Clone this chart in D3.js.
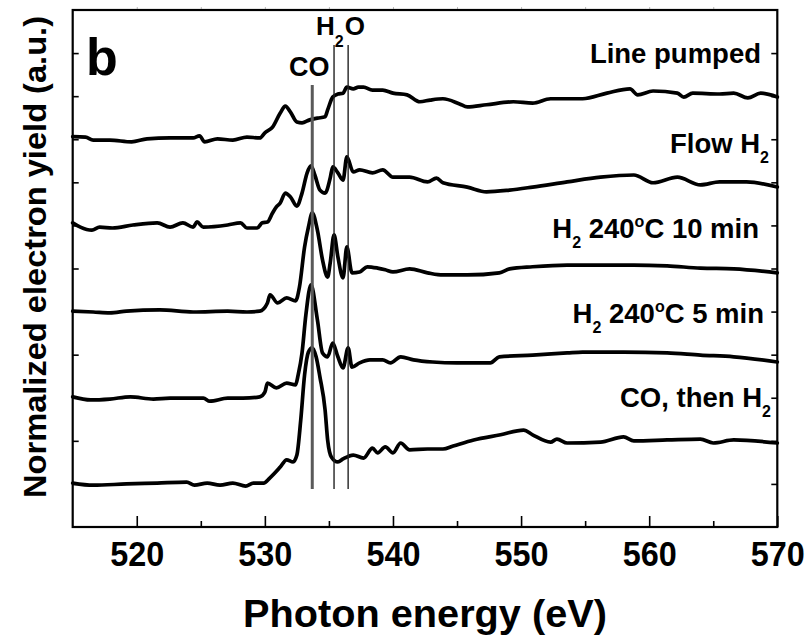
<!DOCTYPE html>
<html>
<head>
<meta charset="utf-8">
<script src="https://cdn.jsdelivr.net/npm/d3@7/dist/d3.min.js"></script>
<style>
  body { margin: 0; background: #fff; }
  text { font-family: "Liberation Sans", Arial, "DejaVu Sans", sans-serif; font-weight: bold; fill: #000; }
</style>
</head>
<body>
<svg id="chart" width="809" height="639"></svg>
<script>
// O K-edge spectra, offset vertically (photon energy in eV, normalized yield in a.u.)
const linePumpedE = [515.0,516.0,516.6,517.9,519.6,520.8,522.6,524.4,524.9,525.3,526.3,527.5,528.6,529.6,530.0,530.6,531.2,531.6,532.0,532.5,532.9,533.5,534.1,534.7,534.9,535.3,535.7,536.1,536.4,536.9,537.3,537.7,538.4,539.2,540.0,541.1,542.1,542.9,543.9,545.2,545.8,547.3,549.4,550.9,552.3,554.8,556.7,558.5,559.1,560.3,562.2,562.7,563.4,565.5,566.6,567.7,568.7,570.0];
const linePumpedY = [9.06,9.05,8.98,8.98,8.94,9.01,9.03,9.03,9.08,8.94,9.01,8.98,9.05,9.03,9.15,9.28,9.61,9.77,9.63,9.40,9.38,9.45,9.49,9.52,9.68,9.98,10.05,10.07,10.21,10.17,10.21,10.21,10.14,10.14,10.07,10.03,9.87,9.91,9.94,9.82,9.75,9.80,9.87,9.84,9.94,9.94,10.07,10.17,10.03,10.12,10.07,9.98,10.07,10.05,10.07,9.96,10.07,9.98];

const flowH2E = [515.0,515.6,516.5,517.1,518.1,519.7,521.6,522.6,523.6,524.4,524.7,525.2,527.1,528.1,528.6,529.4,529.8,530.2,530.6,530.9,531.2,531.6,532.0,532.5,532.9,533.3,533.6,533.9,534.3,534.7,535.1,535.3,535.7,536.1,536.4,536.9,537.4,538.4,539.2,540.0,541.3,542.7,543.4,543.9,545.8,547.3,549.1,550.9,553.6,556.2,558.8,560.3,562.2,564.0,565.5,567.6,570.0];
const flowH2Y = [7.06,6.96,6.89,6.96,6.94,7.01,7.06,6.96,7.06,6.96,7.08,6.96,7.01,7.06,6.94,6.94,7.06,7.08,7.29,7.43,7.52,7.75,7.66,7.45,7.75,8.22,8.38,8.17,7.82,7.75,8.10,8.36,8.22,8.05,8.59,8.24,8.29,8.22,8.29,8.12,8.12,8.01,8.10,7.99,7.89,7.78,7.82,7.89,8.01,8.12,8.17,7.99,8.12,7.94,8.01,8.01,7.89];

const h2Hot10E = [515.0,516.6,517.9,519.2,521.8,524.4,527.1,528.6,529.6,530.2,530.4,531.0,531.7,532.4,532.7,533.1,533.4,533.7,534.1,534.5,534.9,535.1,535.4,535.7,536.1,536.4,536.8,537.4,538.0,538.8,539.4,540.0,541.3,542.7,543.9,545.8,548.3,549.1,550.9,553.6,556.2,558.8,561.4,564.0,566.6,570.0];
const h2Hot10Y = [5.01,4.99,4.97,5.01,5.04,4.99,5.01,4.99,5.01,5.20,5.39,5.20,5.32,5.25,5.57,6.50,6.96,7.29,6.89,6.20,5.80,6.13,6.78,6.27,5.78,6.50,5.90,5.92,6.04,6.01,5.97,5.92,5.99,5.90,5.85,5.85,5.90,5.99,6.04,6.08,6.08,6.08,6.06,6.01,5.99,5.90];

const h2Hot5E = [515.0,516.4,517.9,519.5,521.3,522.6,525.2,525.7,527.1,528.3,529.6,530.0,530.2,530.9,531.7,532.4,532.6,532.9,533.2,533.6,534.1,534.5,534.9,535.3,535.7,536.1,536.5,536.8,537.4,538.2,539.2,539.8,540.6,541.6,543.1,545.0,547.6,548.3,550.9,553.6,554.8,558.0,561.4,564.0,566.6,570.0];
const h2Hot5Y = [3.02,2.95,2.97,3.02,2.97,2.99,2.99,2.92,2.99,2.99,3.02,3.13,3.34,3.23,3.34,3.30,3.53,4.04,4.92,5.62,4.81,4.04,3.95,4.27,3.95,3.69,4.16,3.71,3.81,3.88,3.88,3.81,3.95,3.88,3.83,3.81,3.81,3.95,3.99,4.04,4.06,4.06,4.04,3.99,3.95,3.83];

const coThenH2E = [515.0,516.6,519.2,521.6,523.9,524.5,525.5,526.5,527.5,528.5,529.1,529.9,530.4,531.2,531.7,532.2,532.5,532.8,533.1,533.4,533.7,534.0,534.3,534.7,534.9,535.2,535.7,536.1,536.9,537.7,538.4,538.8,539.4,540.0,540.6,541.3,542.7,543.9,544.7,546.3,548.4,550.2,550.9,552.3,552.8,553.6,556.2,558.0,558.8,561.4,564.0,565.0,566.6,570.0];
const coThenH2Y = [1.02,0.97,1.00,1.02,1.04,0.97,1.02,0.97,1.02,0.95,1.02,1.02,1.14,1.39,1.56,1.51,1.67,2.48,3.53,4.06,4.16,3.95,3.48,2.72,2.02,1.62,1.51,1.58,1.67,1.60,1.83,1.72,1.86,1.72,1.95,1.79,1.81,1.81,1.88,2.02,2.14,2.25,2.14,1.97,2.04,1.95,1.97,2.09,2.00,2.02,2.04,1.95,2.02,1.95];

// Reference energies for the CO and H2O features
const coEnergy = [533.7];
const h2oEnergies = [535.4, 536.5];

const xDomain = [515, 570];
const xMajorTicks = [520, 530, 540, 550, 560, 570];
const xMinorTicks = [525, 535, 545, 555, 565];
const xTopTicks = [520, 525, 530, 535, 540, 545, 550, 555, 560, 565];
const yDomain = [0, 12];
const yTicks = [1, 2, 3, 4, 5, 6, 7, 8, 9, 10, 11];

const spectra = [
  { e: linePumpedE, v: linePumpedY },
  { e: flowH2E, v: flowH2Y },
  { e: h2Hot10E, v: h2Hot10Y },
  { e: h2Hot5E, v: h2Hot5Y },
  { e: coThenH2E, v: coThenH2Y }
];

const svg = d3.select("#chart");
const plotLeft = 72.7, plotRight = 777.3, plotTop = 10, plotBottom = 527;

const x = d3.scaleLinear().domain(xDomain).range([plotLeft, plotRight]);
const y = d3.scaleLinear().domain(yDomain).range([plotBottom, plotTop]);

// Spectra
const line = d3.line().x(d => x(d[0])).y(d => y(d[1])).curve(d3.curveMonotoneX);
svg.append("g").selectAll("path").data(spectra).join("path")
  .attr("d", s => line(d3.zip(s.e, s.v)))
  .attr("fill", "none").attr("stroke", "#000")
  .attr("stroke-width", 3.7).attr("stroke-linejoin", "round").attr("stroke-linecap", "round");

// Feature markers
svg.append("g").selectAll("line").data(coEnergy).join("line")
  .attr("x1", d => x(d)).attr("x2", d => x(d))
  .attr("y1", y(10.26)).attr("y2", y(0.88))
  .attr("stroke", "#5a5a5a").attr("stroke-width", 3);
svg.append("g").selectAll("line").data(h2oEnergies).join("line")
  .attr("x1", d => x(d)).attr("x2", d => x(d))
  .attr("y1", y(11.19)).attr("y2", y(0.88))
  .attr("stroke", "#222").attr("stroke-width", 1.4);

// Axes
function clean(g) { g.select(".domain").remove(); g.selectAll("line").attr("stroke", "#000").attr("stroke-width", 1.6); }

const xMajor = svg.append("g").attr("transform", `translate(0,${plotBottom})`)
  .call(d3.axisBottom(x).tickValues(xMajorTicks).tickSizeInner(-11).tickSizeOuter(0).tickPadding(14).tickFormat(d3.format("d")));
clean(xMajor);
xMajor.selectAll("text").attr("font-size", 35).attr("font-family", "Liberation Sans, Arial, sans-serif")
  .attr("font-weight", "bold").attr("fill", "#000")
  .attr("textLength", 54).attr("lengthAdjust", "spacingAndGlyphs");

const xMinor = svg.append("g").attr("transform", `translate(0,${plotBottom})`)
  .call(d3.axisBottom(x).tickValues(xMinorTicks).tickSizeInner(-6).tickSizeOuter(0).tickFormat(""));
clean(xMinor);

const xTop = svg.append("g").attr("transform", `translate(0,${plotTop})`)
  .call(d3.axisTop(x).tickValues(xTopTicks).tickSizeInner(3).tickSizeOuter(0).tickFormat(""));
xTop.select(".domain").remove();
xTop.selectAll("line").attr("stroke", "#bbb").attr("stroke-width", 1);

const yLeft = svg.append("g").attr("transform", `translate(${plotLeft},0)`)
  .call(d3.axisLeft(y).tickValues(yTicks).tickSizeInner(-6).tickSizeOuter(0).tickFormat(""));
clean(yLeft);
const yRight = svg.append("g").attr("transform", `translate(${plotRight},0)`)
  .call(d3.axisRight(y).tickValues(yTicks).tickSizeInner(-6).tickSizeOuter(0).tickFormat(""));
clean(yRight);

// Frame
svg.append("rect").attr("x", plotLeft).attr("y", plotTop).attr("width", plotRight - plotLeft).attr("height", plotBottom - plotTop)
  .attr("fill", "none").attr("stroke", "#000").attr("stroke-width", 2.2);

// Axis titles
svg.append("text").attr("x", (plotLeft + plotRight) / 2).attr("y", 627).attr("text-anchor", "middle")
  .attr("font-size", 39).attr("textLength", 364).attr("lengthAdjust", "spacingAndGlyphs")
  .text("Photon energy (eV)");
svg.append("text").attr("transform", "translate(46,257) rotate(-90)").attr("text-anchor", "middle")
  .attr("font-size", 32).attr("textLength", 482).attr("lengthAdjust", "spacingAndGlyphs")
  .text("Normalized electron yield (a.u.)");

// Panel letter and feature names
svg.append("text").attr("x", 86).attr("y", 75).attr("font-size", 52).text("b");
svg.append("text").attr("x", 289).attr("y", 76).attr("font-size", 27).text("CO");
const h2o = svg.append("text").attr("x", 316).attr("y", 35).attr("font-size", 26);
h2o.append("tspan").text("H");
h2o.append("tspan").attr("font-size", 16).attr("dy", 12).text("2");
h2o.append("tspan").attr("dy", -12).attr("dx", 1).text("O");

// Spectrum labels: parts are [text, kind] with kind "sub" / "sup" / ""
function label(parts, xEnd, baseline) {
  const t = svg.append("text").attr("x", xEnd).attr("y", baseline).attr("text-anchor", "end").attr("font-size", 27.5);
  let shift = 0;
  parts.forEach(([s, kind]) => {
    const target = kind === "sub" ? 10 : kind === "sup" ? -11 : 0;
    const ts = t.append("tspan").attr("dy", target - shift).text(s);
    if (kind) ts.attr("font-size", 16);
    shift = target;
  });
}
label([["Line pumped", ""]], 761, 63);
label([["Flow H", ""], ["2", "sub"]], 769, 153);
label([["H", ""], ["2", "sub"], [" 240", ""], ["o", "sup"], ["C 10 min", ""]], 759, 238);
label([["H", ""], ["2", "sub"], [" 240", ""], ["o", "sup"], ["C 5 min", ""]], 764, 323);
label([["CO, then H", ""], ["2", "sub"]], 771, 407);
</script>
</body>
</html>
